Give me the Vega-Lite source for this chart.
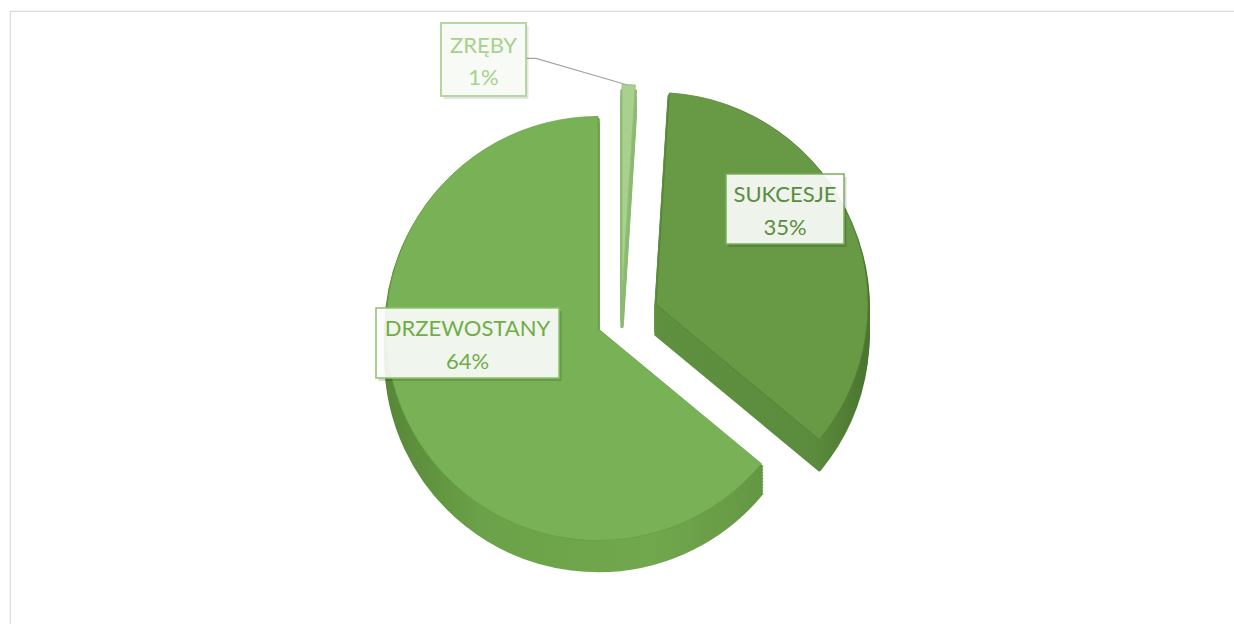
{
  "$schema": "https://vega.github.io/schema/vega-lite/v6.json",
  "autosize": {"type": "fit", "contains": "padding"},
  "width": 1234,
  "height": 624,
  "padding": {"left": 10, "top": 11, "right": -2, "bottom": -2},
  "background": "#FFFFFF",
  "view": {"stroke": "#D9D9D9", "strokeWidth": 1.2},
  "data": {"values": [
    {"segment": "DRZEWOSTANY", "share": 0.64},
    {"segment": "SUKCESJE", "share": 0.35},
    {"segment": "ZRĘBY", "share": 0.01}
  ]},
  "transform": [
    {"stack": "share", "groupby": [], "sort": [{"field": "share", "order": "ascending"}], "as": ["v0", "v1"]}
  ],
  "layer": [
    {"transform": [{"filter": "datum.segment === 'ZRĘBY'"}], "mark": {"type": "arc", "radius": 212, "xOffset": -1, "yOffset": 8, "fill": "#8DBA72", "stroke": "#8DBA72", "strokeWidth": 3.5, "strokeJoin": "round"}, "encoding": {"theta": {"field": "v0", "type": "quantitative", "scale": {"domain": [0, 1]}}, "theta2": {"field": "v1"}}},
    {"transform": [{"filter": "datum.segment === 'ZRĘBY'"}], "mark": {"type": "arc", "radius": 212, "xOffset": -1, "yOffset": 2, "fill": "#8DBA72", "stroke": "#8DBA72", "strokeWidth": 3.5, "strokeJoin": "round"}, "encoding": {"theta": {"field": "v0", "type": "quantitative", "scale": {"domain": [0, 1]}}, "theta2": {"field": "v1"}}},
    {"transform": [{"filter": "datum.segment === 'ZRĘBY'"}], "mark": {"type": "arc", "radius": 212, "xOffset": -1, "yOffset": -4, "fill": "#8DBA72", "stroke": "#8DBA72", "strokeWidth": 3.5, "strokeJoin": "round"}, "encoding": {"theta": {"field": "v0", "type": "quantitative", "scale": {"domain": [0, 1]}}, "theta2": {"field": "v1"}}},
    {"transform": [{"filter": "datum.segment === 'ZRĘBY'"}], "mark": {"type": "arc", "radius": 212, "xOffset": -1, "yOffset": -10, "fill": "#8DBA72", "stroke": "#8DBA72", "strokeWidth": 3.5, "strokeJoin": "round"}, "encoding": {"theta": {"field": "v0", "type": "quantitative", "scale": {"domain": [0, 1]}}, "theta2": {"field": "v1"}}},
    {"transform": [{"filter": "datum.segment === 'ZRĘBY'"}], "mark": {"type": "arc", "radius": 212, "xOffset": -1, "yOffset": -16, "fill": "#8DBA72", "stroke": "#8DBA72", "strokeWidth": 3.5, "strokeJoin": "round"}, "encoding": {"theta": {"field": "v0", "type": "quantitative", "scale": {"domain": [0, 1]}}, "theta2": {"field": "v1"}}},
    {"transform": [{"filter": "datum.segment === 'ZRĘBY'"}], "mark": {"type": "arc", "radius": 212, "xOffset": -1, "yOffset": -22, "fill": "#A9D08E", "stroke": "#8FBE74", "strokeWidth": 0.8}, "encoding": {"theta": {"field": "v0", "type": "quantitative", "scale": {"domain": [0, 1]}}, "theta2": {"field": "v1"}}},

    {"transform": [{"filter": "datum.segment === 'SUKCESJE'"}], "mark": {"type": "arc", "radius": 212, "xOffset": 33, "yOffset": 16, "stroke": {"gradient": "linear", "x1": 0, "y1": 0, "x2": 1, "y2": 0, "stops": [{"offset": 0, "color": "#5F9040"}, {"offset": 0.75, "color": "#5B8B3C"}, {"offset": 1, "color": "#4A752E"}]}, "fill": {"gradient": "linear", "x1": 0, "y1": 0, "x2": 1, "y2": 0, "stops": [{"offset": 0, "color": "#5F9040"}, {"offset": 0.75, "color": "#5B8B3C"}, {"offset": 1, "color": "#4A752E"}]}, "strokeWidth": 3.5, "strokeJoin": "round"}, "encoding": {"theta": {"field": "v0", "type": "quantitative", "scale": {"domain": [0, 1]}}, "theta2": {"field": "v1"}}},
    {"transform": [{"filter": "datum.segment === 'SUKCESJE'"}], "mark": {"type": "arc", "radius": 212, "xOffset": 33, "yOffset": 13, "stroke": {"gradient": "linear", "x1": 0, "y1": 0, "x2": 1, "y2": 0, "stops": [{"offset": 0, "color": "#5F9040"}, {"offset": 0.75, "color": "#5B8B3C"}, {"offset": 1, "color": "#4A752E"}]}, "fill": {"gradient": "linear", "x1": 0, "y1": 0, "x2": 1, "y2": 0, "stops": [{"offset": 0, "color": "#5F9040"}, {"offset": 0.75, "color": "#5B8B3C"}, {"offset": 1, "color": "#4A752E"}]}, "strokeWidth": 3.5, "strokeJoin": "round"}, "encoding": {"theta": {"field": "v0", "type": "quantitative", "scale": {"domain": [0, 1]}}, "theta2": {"field": "v1"}}},
    {"transform": [{"filter": "datum.segment === 'SUKCESJE'"}], "mark": {"type": "arc", "radius": 212, "xOffset": 33, "yOffset": 10, "stroke": {"gradient": "linear", "x1": 0, "y1": 0, "x2": 1, "y2": 0, "stops": [{"offset": 0, "color": "#5F9040"}, {"offset": 0.75, "color": "#5B8B3C"}, {"offset": 1, "color": "#4A752E"}]}, "fill": {"gradient": "linear", "x1": 0, "y1": 0, "x2": 1, "y2": 0, "stops": [{"offset": 0, "color": "#5F9040"}, {"offset": 0.75, "color": "#5B8B3C"}, {"offset": 1, "color": "#4A752E"}]}, "strokeWidth": 3.5, "strokeJoin": "round"}, "encoding": {"theta": {"field": "v0", "type": "quantitative", "scale": {"domain": [0, 1]}}, "theta2": {"field": "v1"}}},
    {"transform": [{"filter": "datum.segment === 'SUKCESJE'"}], "mark": {"type": "arc", "radius": 212, "xOffset": 33, "yOffset": 7, "stroke": {"gradient": "linear", "x1": 0, "y1": 0, "x2": 1, "y2": 0, "stops": [{"offset": 0, "color": "#5F9040"}, {"offset": 0.75, "color": "#5B8B3C"}, {"offset": 1, "color": "#4A752E"}]}, "fill": {"gradient": "linear", "x1": 0, "y1": 0, "x2": 1, "y2": 0, "stops": [{"offset": 0, "color": "#5F9040"}, {"offset": 0.75, "color": "#5B8B3C"}, {"offset": 1, "color": "#4A752E"}]}, "strokeWidth": 3.5, "strokeJoin": "round"}, "encoding": {"theta": {"field": "v0", "type": "quantitative", "scale": {"domain": [0, 1]}}, "theta2": {"field": "v1"}}},
    {"transform": [{"filter": "datum.segment === 'SUKCESJE'"}], "mark": {"type": "arc", "radius": 212, "xOffset": 33, "yOffset": 4, "stroke": {"gradient": "linear", "x1": 0, "y1": 0, "x2": 1, "y2": 0, "stops": [{"offset": 0, "color": "#5F9040"}, {"offset": 0.75, "color": "#5B8B3C"}, {"offset": 1, "color": "#4A752E"}]}, "fill": {"gradient": "linear", "x1": 0, "y1": 0, "x2": 1, "y2": 0, "stops": [{"offset": 0, "color": "#5F9040"}, {"offset": 0.75, "color": "#5B8B3C"}, {"offset": 1, "color": "#4A752E"}]}, "strokeWidth": 3.5, "strokeJoin": "round"}, "encoding": {"theta": {"field": "v0", "type": "quantitative", "scale": {"domain": [0, 1]}}, "theta2": {"field": "v1"}}},
    {"transform": [{"filter": "datum.segment === 'SUKCESJE'"}], "mark": {"type": "arc", "radius": 212, "xOffset": 33, "yOffset": 1, "stroke": {"gradient": "linear", "x1": 0, "y1": 0, "x2": 1, "y2": 0, "stops": [{"offset": 0, "color": "#5F9040"}, {"offset": 0.75, "color": "#5B8B3C"}, {"offset": 1, "color": "#4A752E"}]}, "fill": {"gradient": "linear", "x1": 0, "y1": 0, "x2": 1, "y2": 0, "stops": [{"offset": 0, "color": "#5F9040"}, {"offset": 0.75, "color": "#5B8B3C"}, {"offset": 1, "color": "#4A752E"}]}, "strokeWidth": 3.5, "strokeJoin": "round"}, "encoding": {"theta": {"field": "v0", "type": "quantitative", "scale": {"domain": [0, 1]}}, "theta2": {"field": "v1"}}},
    {"transform": [{"filter": "datum.segment === 'SUKCESJE'"}], "mark": {"type": "arc", "radius": 212, "xOffset": 33, "yOffset": -2, "stroke": {"gradient": "linear", "x1": 0, "y1": 0, "x2": 1, "y2": 0, "stops": [{"offset": 0, "color": "#5F9040"}, {"offset": 0.75, "color": "#5B8B3C"}, {"offset": 1, "color": "#4A752E"}]}, "fill": {"gradient": "linear", "x1": 0, "y1": 0, "x2": 1, "y2": 0, "stops": [{"offset": 0, "color": "#5F9040"}, {"offset": 0.75, "color": "#5B8B3C"}, {"offset": 1, "color": "#4A752E"}]}, "strokeWidth": 3.5, "strokeJoin": "round"}, "encoding": {"theta": {"field": "v0", "type": "quantitative", "scale": {"domain": [0, 1]}}, "theta2": {"field": "v1"}}},
    {"transform": [{"filter": "datum.segment === 'SUKCESJE'"}], "mark": {"type": "arc", "radius": 212, "xOffset": 33, "yOffset": -5, "stroke": {"gradient": "linear", "x1": 0, "y1": 0, "x2": 1, "y2": 0, "stops": [{"offset": 0, "color": "#5F9040"}, {"offset": 0.75, "color": "#5B8B3C"}, {"offset": 1, "color": "#4A752E"}]}, "fill": {"gradient": "linear", "x1": 0, "y1": 0, "x2": 1, "y2": 0, "stops": [{"offset": 0, "color": "#5F9040"}, {"offset": 0.75, "color": "#5B8B3C"}, {"offset": 1, "color": "#4A752E"}]}, "strokeWidth": 3.5, "strokeJoin": "round"}, "encoding": {"theta": {"field": "v0", "type": "quantitative", "scale": {"domain": [0, 1]}}, "theta2": {"field": "v1"}}},
    {"transform": [{"filter": "datum.segment === 'SUKCESJE'"}], "mark": {"type": "arc", "radius": 212, "xOffset": 33, "yOffset": -8, "stroke": {"gradient": "linear", "x1": 0, "y1": 0, "x2": 1, "y2": 0, "stops": [{"offset": 0, "color": "#5F9040"}, {"offset": 0.75, "color": "#5B8B3C"}, {"offset": 1, "color": "#4A752E"}]}, "fill": {"gradient": "linear", "x1": 0, "y1": 0, "x2": 1, "y2": 0, "stops": [{"offset": 0, "color": "#5F9040"}, {"offset": 0.75, "color": "#5B8B3C"}, {"offset": 1, "color": "#4A752E"}]}, "strokeWidth": 3.5, "strokeJoin": "round"}, "encoding": {"theta": {"field": "v0", "type": "quantitative", "scale": {"domain": [0, 1]}}, "theta2": {"field": "v1"}}},
    {"transform": [{"filter": "datum.segment === 'SUKCESJE'"}], "mark": {"type": "arc", "radius": 212, "xOffset": 33, "yOffset": -11, "stroke": {"gradient": "linear", "x1": 0, "y1": 0, "x2": 1, "y2": 0, "stops": [{"offset": 0, "color": "#5F9040"}, {"offset": 0.75, "color": "#5B8B3C"}, {"offset": 1, "color": "#4A752E"}]}, "fill": {"gradient": "linear", "x1": 0, "y1": 0, "x2": 1, "y2": 0, "stops": [{"offset": 0, "color": "#5F9040"}, {"offset": 0.75, "color": "#5B8B3C"}, {"offset": 1, "color": "#4A752E"}]}, "strokeWidth": 3.5, "strokeJoin": "round"}, "encoding": {"theta": {"field": "v0", "type": "quantitative", "scale": {"domain": [0, 1]}}, "theta2": {"field": "v1"}}},
    {"transform": [{"filter": "datum.segment === 'SUKCESJE'"}], "mark": {"type": "arc", "radius": 212, "xOffset": 33, "yOffset": -14, "fill": "#689A46", "stroke": "#557F37", "strokeWidth": 0.8}, "encoding": {"theta": {"field": "v0", "type": "quantitative", "scale": {"domain": [0, 1]}}, "theta2": {"field": "v1"}}},

    {"transform": [{"filter": "datum.segment === 'DRZEWOSTANY'"}], "mark": {"type": "arc", "radius": 212, "xOffset": -25, "yOffset": 40, "stroke": {"gradient": "linear", "x1": 0, "y1": 0, "x2": 1, "y2": 0, "stops": [{"offset": 0, "color": "#578737"}, {"offset": 0.25, "color": "#6BA148"}, {"offset": 0.7, "color": "#71A84D"}, {"offset": 1, "color": "#649742"}]}, "fill": {"gradient": "linear", "x1": 0, "y1": 0, "x2": 1, "y2": 0, "stops": [{"offset": 0, "color": "#578737"}, {"offset": 0.25, "color": "#6BA148"}, {"offset": 0.7, "color": "#71A84D"}, {"offset": 1, "color": "#649742"}]}, "strokeWidth": 3.5, "strokeJoin": "round"}, "encoding": {"theta": {"field": "v0", "type": "quantitative", "scale": {"domain": [0, 1]}}, "theta2": {"field": "v1"}}},
    {"transform": [{"filter": "datum.segment === 'DRZEWOSTANY'"}], "mark": {"type": "arc", "radius": 212, "xOffset": -25, "yOffset": 37, "stroke": {"gradient": "linear", "x1": 0, "y1": 0, "x2": 1, "y2": 0, "stops": [{"offset": 0, "color": "#578737"}, {"offset": 0.25, "color": "#6BA148"}, {"offset": 0.7, "color": "#71A84D"}, {"offset": 1, "color": "#649742"}]}, "fill": {"gradient": "linear", "x1": 0, "y1": 0, "x2": 1, "y2": 0, "stops": [{"offset": 0, "color": "#578737"}, {"offset": 0.25, "color": "#6BA148"}, {"offset": 0.7, "color": "#71A84D"}, {"offset": 1, "color": "#649742"}]}, "strokeWidth": 3.5, "strokeJoin": "round"}, "encoding": {"theta": {"field": "v0", "type": "quantitative", "scale": {"domain": [0, 1]}}, "theta2": {"field": "v1"}}},
    {"transform": [{"filter": "datum.segment === 'DRZEWOSTANY'"}], "mark": {"type": "arc", "radius": 212, "xOffset": -25, "yOffset": 34, "stroke": {"gradient": "linear", "x1": 0, "y1": 0, "x2": 1, "y2": 0, "stops": [{"offset": 0, "color": "#578737"}, {"offset": 0.25, "color": "#6BA148"}, {"offset": 0.7, "color": "#71A84D"}, {"offset": 1, "color": "#649742"}]}, "fill": {"gradient": "linear", "x1": 0, "y1": 0, "x2": 1, "y2": 0, "stops": [{"offset": 0, "color": "#578737"}, {"offset": 0.25, "color": "#6BA148"}, {"offset": 0.7, "color": "#71A84D"}, {"offset": 1, "color": "#649742"}]}, "strokeWidth": 3.5, "strokeJoin": "round"}, "encoding": {"theta": {"field": "v0", "type": "quantitative", "scale": {"domain": [0, 1]}}, "theta2": {"field": "v1"}}},
    {"transform": [{"filter": "datum.segment === 'DRZEWOSTANY'"}], "mark": {"type": "arc", "radius": 212, "xOffset": -25, "yOffset": 31, "stroke": {"gradient": "linear", "x1": 0, "y1": 0, "x2": 1, "y2": 0, "stops": [{"offset": 0, "color": "#578737"}, {"offset": 0.25, "color": "#6BA148"}, {"offset": 0.7, "color": "#71A84D"}, {"offset": 1, "color": "#649742"}]}, "fill": {"gradient": "linear", "x1": 0, "y1": 0, "x2": 1, "y2": 0, "stops": [{"offset": 0, "color": "#578737"}, {"offset": 0.25, "color": "#6BA148"}, {"offset": 0.7, "color": "#71A84D"}, {"offset": 1, "color": "#649742"}]}, "strokeWidth": 3.5, "strokeJoin": "round"}, "encoding": {"theta": {"field": "v0", "type": "quantitative", "scale": {"domain": [0, 1]}}, "theta2": {"field": "v1"}}},
    {"transform": [{"filter": "datum.segment === 'DRZEWOSTANY'"}], "mark": {"type": "arc", "radius": 212, "xOffset": -25, "yOffset": 28, "stroke": {"gradient": "linear", "x1": 0, "y1": 0, "x2": 1, "y2": 0, "stops": [{"offset": 0, "color": "#578737"}, {"offset": 0.25, "color": "#6BA148"}, {"offset": 0.7, "color": "#71A84D"}, {"offset": 1, "color": "#649742"}]}, "fill": {"gradient": "linear", "x1": 0, "y1": 0, "x2": 1, "y2": 0, "stops": [{"offset": 0, "color": "#578737"}, {"offset": 0.25, "color": "#6BA148"}, {"offset": 0.7, "color": "#71A84D"}, {"offset": 1, "color": "#649742"}]}, "strokeWidth": 3.5, "strokeJoin": "round"}, "encoding": {"theta": {"field": "v0", "type": "quantitative", "scale": {"domain": [0, 1]}}, "theta2": {"field": "v1"}}},
    {"transform": [{"filter": "datum.segment === 'DRZEWOSTANY'"}], "mark": {"type": "arc", "radius": 212, "xOffset": -25, "yOffset": 25, "stroke": {"gradient": "linear", "x1": 0, "y1": 0, "x2": 1, "y2": 0, "stops": [{"offset": 0, "color": "#578737"}, {"offset": 0.25, "color": "#6BA148"}, {"offset": 0.7, "color": "#71A84D"}, {"offset": 1, "color": "#649742"}]}, "fill": {"gradient": "linear", "x1": 0, "y1": 0, "x2": 1, "y2": 0, "stops": [{"offset": 0, "color": "#578737"}, {"offset": 0.25, "color": "#6BA148"}, {"offset": 0.7, "color": "#71A84D"}, {"offset": 1, "color": "#649742"}]}, "strokeWidth": 3.5, "strokeJoin": "round"}, "encoding": {"theta": {"field": "v0", "type": "quantitative", "scale": {"domain": [0, 1]}}, "theta2": {"field": "v1"}}},
    {"transform": [{"filter": "datum.segment === 'DRZEWOSTANY'"}], "mark": {"type": "arc", "radius": 212, "xOffset": -25, "yOffset": 22, "stroke": {"gradient": "linear", "x1": 0, "y1": 0, "x2": 1, "y2": 0, "stops": [{"offset": 0, "color": "#578737"}, {"offset": 0.25, "color": "#6BA148"}, {"offset": 0.7, "color": "#71A84D"}, {"offset": 1, "color": "#649742"}]}, "fill": {"gradient": "linear", "x1": 0, "y1": 0, "x2": 1, "y2": 0, "stops": [{"offset": 0, "color": "#578737"}, {"offset": 0.25, "color": "#6BA148"}, {"offset": 0.7, "color": "#71A84D"}, {"offset": 1, "color": "#649742"}]}, "strokeWidth": 3.5, "strokeJoin": "round"}, "encoding": {"theta": {"field": "v0", "type": "quantitative", "scale": {"domain": [0, 1]}}, "theta2": {"field": "v1"}}},
    {"transform": [{"filter": "datum.segment === 'DRZEWOSTANY'"}], "mark": {"type": "arc", "radius": 212, "xOffset": -25, "yOffset": 19, "stroke": {"gradient": "linear", "x1": 0, "y1": 0, "x2": 1, "y2": 0, "stops": [{"offset": 0, "color": "#578737"}, {"offset": 0.25, "color": "#6BA148"}, {"offset": 0.7, "color": "#71A84D"}, {"offset": 1, "color": "#649742"}]}, "fill": {"gradient": "linear", "x1": 0, "y1": 0, "x2": 1, "y2": 0, "stops": [{"offset": 0, "color": "#578737"}, {"offset": 0.25, "color": "#6BA148"}, {"offset": 0.7, "color": "#71A84D"}, {"offset": 1, "color": "#649742"}]}, "strokeWidth": 3.5, "strokeJoin": "round"}, "encoding": {"theta": {"field": "v0", "type": "quantitative", "scale": {"domain": [0, 1]}}, "theta2": {"field": "v1"}}},
    {"transform": [{"filter": "datum.segment === 'DRZEWOSTANY'"}], "mark": {"type": "arc", "radius": 212, "xOffset": -25, "yOffset": 16, "stroke": {"gradient": "linear", "x1": 0, "y1": 0, "x2": 1, "y2": 0, "stops": [{"offset": 0, "color": "#578737"}, {"offset": 0.25, "color": "#6BA148"}, {"offset": 0.7, "color": "#71A84D"}, {"offset": 1, "color": "#649742"}]}, "fill": {"gradient": "linear", "x1": 0, "y1": 0, "x2": 1, "y2": 0, "stops": [{"offset": 0, "color": "#578737"}, {"offset": 0.25, "color": "#6BA148"}, {"offset": 0.7, "color": "#71A84D"}, {"offset": 1, "color": "#649742"}]}, "strokeWidth": 3.5, "strokeJoin": "round"}, "encoding": {"theta": {"field": "v0", "type": "quantitative", "scale": {"domain": [0, 1]}}, "theta2": {"field": "v1"}}},
    {"transform": [{"filter": "datum.segment === 'DRZEWOSTANY'"}], "mark": {"type": "arc", "radius": 212, "xOffset": -25, "yOffset": 13, "stroke": {"gradient": "linear", "x1": 0, "y1": 0, "x2": 1, "y2": 0, "stops": [{"offset": 0, "color": "#578737"}, {"offset": 0.25, "color": "#6BA148"}, {"offset": 0.7, "color": "#71A84D"}, {"offset": 1, "color": "#649742"}]}, "fill": {"gradient": "linear", "x1": 0, "y1": 0, "x2": 1, "y2": 0, "stops": [{"offset": 0, "color": "#578737"}, {"offset": 0.25, "color": "#6BA148"}, {"offset": 0.7, "color": "#71A84D"}, {"offset": 1, "color": "#649742"}]}, "strokeWidth": 3.5, "strokeJoin": "round"}, "encoding": {"theta": {"field": "v0", "type": "quantitative", "scale": {"domain": [0, 1]}}, "theta2": {"field": "v1"}}},
    {"transform": [{"filter": "datum.segment === 'DRZEWOSTANY'"}], "mark": {"type": "arc", "radius": 212, "xOffset": -25, "yOffset": 10, "fill": "#79B256", "stroke": "#66A045", "strokeWidth": 0.8}, "encoding": {"theta": {"field": "v0", "type": "quantitative", "scale": {"domain": [0, 1]}}, "theta2": {"field": "v1"}}},

    {"transform": [{"filter": "datum.segment === 'ZRĘBY'"}], "mark": {"type": "point", "shape": "M42.5,-1.2L52.5,-1.2L144,25.5", "size": 4, "filled": false, "stroke": "#A5A5A5", "strokeWidth": 1.3, "opacity": 1, "xOffset": -139.5, "yOffset": -259}, "encoding": {}},

    {"transform": [{"filter": "datum.segment === 'DRZEWOSTANY'"}], "mark": {"type": "point", "shape": "M-1,-0.3825H1V0.3825H-1Z", "size": 33489, "filled": true, "fill": "#000000", "opacity": 0.15, "strokeWidth": 0, "xOffset": -153, "yOffset": 27.5}, "encoding": {}},
    {"transform": [{"filter": "datum.segment === 'DRZEWOSTANY'"}], "mark": {"type": "point", "shape": "M-1,-0.3825H1V0.3825H-1Z", "size": 33489, "filled": true, "fill": "#FFFFFF", "fillOpacity": 0.9, "opacity": 1, "stroke": "#8DC26B", "strokeWidth": 1.5, "xOffset": -155.5, "yOffset": 24.5}, "encoding": {}},
    {"transform": [{"filter": "datum.segment === 'DRZEWOSTANY'"}], "mark": {"type": "text", "font": "Lato", "fontSize": 22, "fill": "#70AD47", "dx": -155.5, "dy": 10}, "encoding": {"text": {"field": "segment"}}},
    {"transform": [{"filter": "datum.segment === 'DRZEWOSTANY'"}], "mark": {"type": "text", "font": "Lato", "fontSize": 22, "fill": "#70AD47", "dx": -155.5, "dy": 43.5}, "encoding": {"text": {"field": "share", "type": "quantitative", "format": ".0%"}}},

    {"transform": [{"filter": "datum.segment === 'SUKCESJE'"}], "mark": {"type": "point", "shape": "M-1,-0.593H1V0.593H-1Z", "size": 13924, "filled": true, "fill": "#000000", "opacity": 0.15, "strokeWidth": 0, "xOffset": 164.5, "yOffset": -106.5}, "encoding": {}},
    {"transform": [{"filter": "datum.segment === 'SUKCESJE'"}], "mark": {"type": "point", "shape": "M-1,-0.593H1V0.593H-1Z", "size": 13924, "filled": true, "fill": "#FFFFFF", "fillOpacity": 0.9, "opacity": 1, "stroke": "#7AAE58", "strokeWidth": 1.5, "xOffset": 162, "yOffset": -109.5}, "encoding": {}},
    {"transform": [{"filter": "datum.segment === 'SUKCESJE'"}], "mark": {"type": "text", "font": "Lato", "fontSize": 22, "fill": "#5B8D3E", "dx": 162, "dy": -124}, "encoding": {"text": {"field": "segment"}}},
    {"transform": [{"filter": "datum.segment === 'SUKCESJE'"}], "mark": {"type": "text", "font": "Lato", "fontSize": 22, "fill": "#5B8D3E", "dx": 162, "dy": -91}, "encoding": {"text": {"field": "share", "type": "quantitative", "format": ".0%"}}},

    {"transform": [{"filter": "datum.segment === 'ZRĘBY'"}], "mark": {"type": "point", "shape": "M-1,-0.859H1V0.859H-1Z", "size": 7225, "filled": true, "fill": "#000000", "opacity": 0.1, "strokeWidth": 0, "xOffset": -137, "yOffset": -256}, "encoding": {}},
    {"transform": [{"filter": "datum.segment === 'ZRĘBY'"}], "mark": {"type": "point", "shape": "M-1,-0.859H1V0.859H-1Z", "size": 7225, "filled": true, "fill": "#F8FAF6", "opacity": 1, "stroke": "#B4D7A0", "strokeWidth": 2, "xOffset": -139.5, "yOffset": -259}, "encoding": {}},
    {"transform": [{"filter": "datum.segment === 'ZRĘBY'"}], "mark": {"type": "text", "font": "Lato", "fontSize": 22, "fill": "#A9D08E", "dx": -139.5, "dy": -273}, "encoding": {"text": {"field": "segment"}}},
    {"transform": [{"filter": "datum.segment === 'ZRĘBY'"}], "mark": {"type": "text", "font": "Lato", "fontSize": 22, "fill": "#A9D08E", "dx": -139.5, "dy": -241}, "encoding": {"text": {"field": "share", "type": "quantitative", "format": ".0%"}}}
  ]
}
